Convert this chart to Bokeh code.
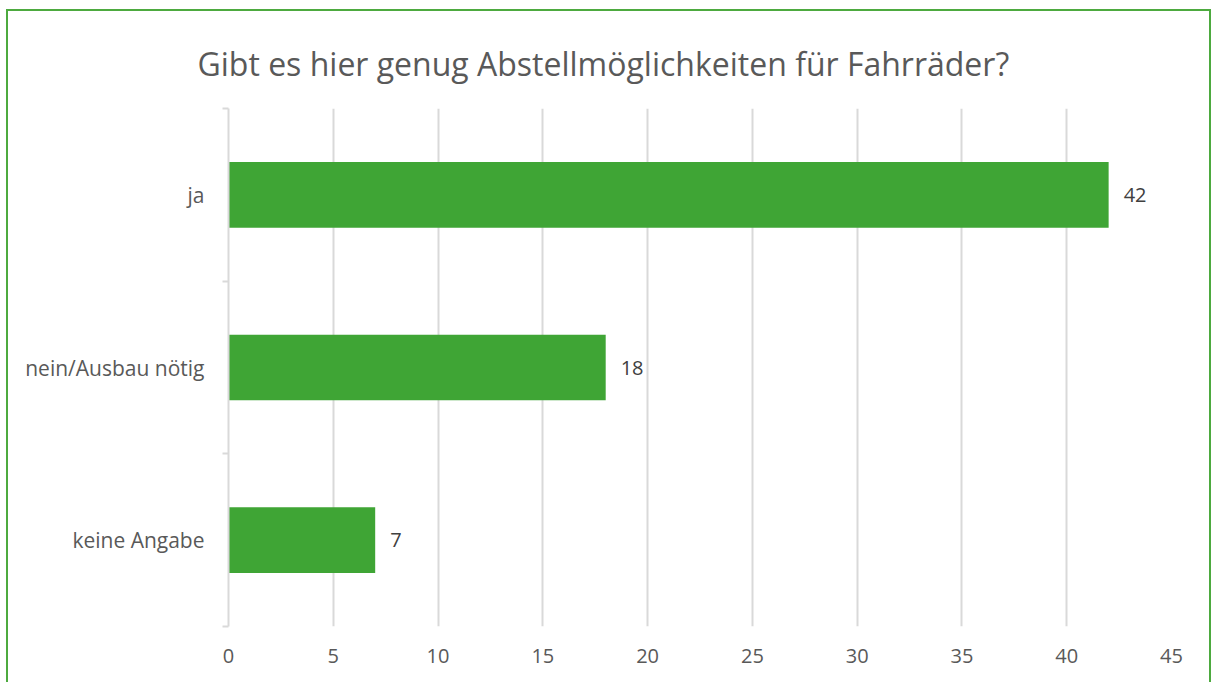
from bokeh.plotting import figure
from bokeh.models import Range1d, FixedTicker, ColumnDataSource, LabelSet, Title
from bokeh.core.properties import value
from bokeh.embed import file_html
from bokeh.resources import INLINE

categories = ["ja", "nein/Ausbau nötig", "keine Angabe"]
values = [42, 18, 7]
x_ticks = [0, 5, 10, 15, 20, 25, 30, 35, 40, 45]
title_text = "Gibt es hier genug Abstellmöglichkeiten für Fahrräder?"

n = len(categories)
ypos = [n - i - 0.5 for i in range(n)]
src = ColumnDataSource(dict(y=ypos, v=values, lab=[str(v) for v in values], cat=categories))

FONT = "Open Sans"
GREEN = "#3FA535"
GRID = "#D9D9D9"

p = figure(width=1205, height=675, output_backend="svg", toolbar_location=None,
           x_range=Range1d(0, 45), y_range=Range1d(0, n),
           min_border_left=220, min_border_right=42, min_border_top=97, min_border_bottom=60)
p.styles = {"border": "2px solid #4DAA3F", "margin-left": "6px", "margin-top": "9px"}
p.outline_line_color = None

p.hbar(y="y", right="v", left=0, height=0.38, source=src, fill_color=GREEN, line_color=None)

labels = LabelSet(x="v", y="y", text="lab", source=src, x_offset=15, text_baseline="middle",
                  text_font=value(FONT), text_font_size=value("20px"), text_color="#404040")
p.add_layout(labels)

p.xaxis.ticker = FixedTicker(ticks=x_ticks)
p.xaxis.axis_line_color = None
p.xaxis.major_tick_line_color = None
p.xaxis.minor_tick_line_color = None
p.xaxis.major_label_standoff = 16
p.xaxis.major_label_text_font = FONT
p.xaxis.major_label_text_font_size = "20px"
p.xaxis.major_label_text_color = "#595959"

p.yaxis.ticker = FixedTicker(ticks=ypos, minor_ticks=list(range(n + 1)))
p.yaxis.major_label_overrides = {y: c for y, c in zip(ypos, categories)}
p.yaxis.axis_line_color = GRID
p.yaxis.axis_line_width = 2
p.yaxis.major_tick_line_color = None
p.yaxis.minor_tick_line_color = GRID
p.yaxis.minor_tick_line_width = 2
p.yaxis.minor_tick_in = 0
p.yaxis.minor_tick_out = 6
p.yaxis.major_label_standoff = 18
p.yaxis.major_label_text_font = FONT
p.yaxis.major_label_text_font_size = "21px"
p.yaxis.major_label_text_color = "#595959"

p.xgrid.grid_line_color = GRID
p.xgrid.grid_line_width = 2
p.ygrid.grid_line_color = None

p.title = Title(text=title_text, align="left", offset=-31, text_font=FONT, text_font_size="32px",
                text_color="#595959", text_font_style="normal", standoff=48)

open("out.html", "w").write(file_html(p, INLINE))
